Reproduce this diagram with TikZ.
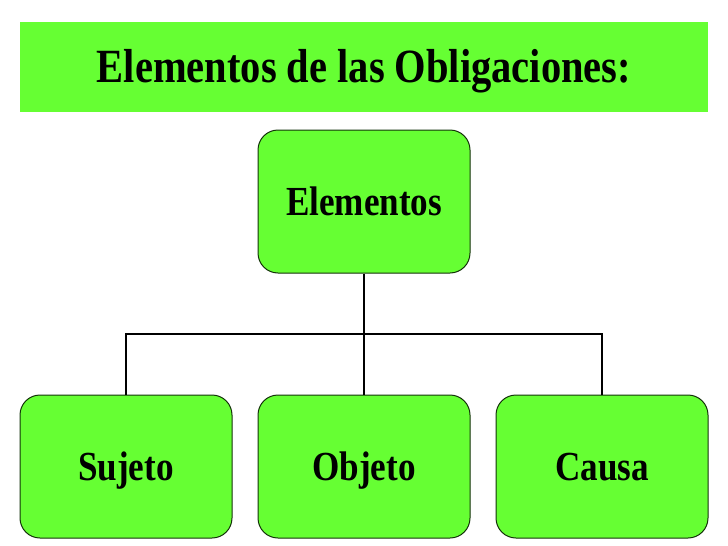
\documentclass[tikz,border=0pt]{standalone}
\usepackage{fontspec}
\setmainfont{Liberation Serif}
\definecolor{lgreen}{RGB}{102,255,51}
\definecolor{edge}{RGB}{20,50,10}
\newcommand{\cond}[1]{\scalebox{0.9}[1.06]{#1}}
\begin{document}
\begin{tikzpicture}[x=1pt,y=-1pt,
  box/.style={draw=edge,line width=1pt,fill=lgreen,rounded corners=20pt,
    minimum width=212pt,minimum height=143pt,inner sep=0pt,
    text height=36pt,text depth=9pt,
    font=\fontsize{39}{39}\selectfont\bfseries},
  conn/.style={line width=2pt,black}]
\useasboundingbox (0,0) rectangle (728,546);
\node[fill=lgreen,minimum width=688pt,minimum height=90pt,inner sep=0pt,
  text height=40pt,text depth=10pt,
  font=\fontsize{45}{45}\selectfont\bfseries] (title) at (364,67)
  {\cond{Elementos de las Obligaciones:}};
\node[box] (top) at (364,201.5) {\cond{Elementos}};
\node[box] (suj) at (126,466.5) {\cond{Sujeto}};
\node[box] (obj) at (364,466.5) {\cond{Objeto}};
\node[box] (cau) at (602,466.5) {\cond{Causa}};
\coordinate (j) at (364,334);
\draw[conn] (top.south) -- (j);
\draw[conn] (suj.north) |- (j) -| (cau.north);
\draw[conn] (j) -- (obj.north);
\end{tikzpicture}
\end{document}
